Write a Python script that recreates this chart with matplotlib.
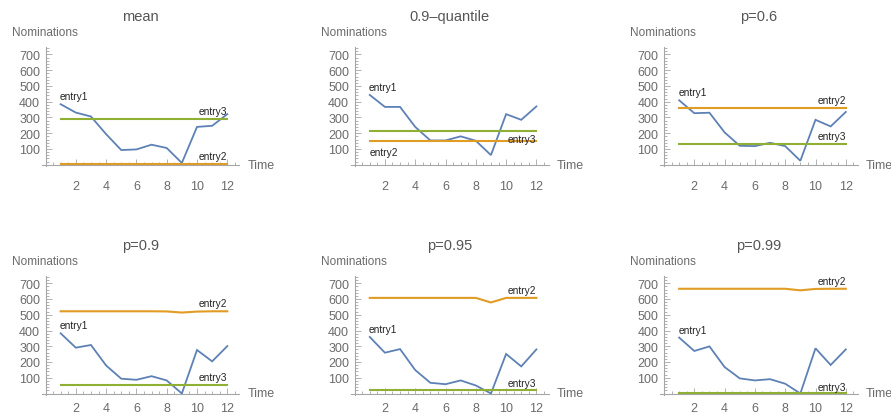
import numpy as np
import matplotlib
matplotlib.use("Agg")
import matplotlib.pyplot as plt
from matplotlib.ticker import MultipleLocator

plt.rcParams['font.family'] = ['Liberation Sans', 'DejaVu Sans']

# months on the time axis
time = np.arange(1, 13)

titles = ["mean", "0.9\u2013quantile", "p=0.6", "p=0.9", "p=0.95", "p=0.99"]

# entry1: nominations per month
entry1 = [
    [384, 331, 306, 194, 93, 97, 127, 106, 11, 240, 247, 321],
    [443, 367, 367, 240, 154, 154, 180, 152, 61, 321, 285, 370],
    [409, 327, 330, 205, 120, 118, 139, 118, 25, 285, 243, 335],
    [382, 291, 308, 178, 94, 87, 110, 83, 0, 276, 204, 301],
    [359, 259, 282, 149, 68, 59, 83, 51, 0, 251, 172, 280],
    [355, 270, 299, 168, 96, 83, 91, 62, 0, 287, 181, 280],
]
# entry2 and entry3: threshold levels
entry2 = [
    [2] * 12,
    [152] * 12,
    [357] * 12,
    [522, 522, 522, 522, 522, 522, 522, 521, 514, 520, 522, 522],
    [607, 607, 607, 607, 607, 607, 607, 607, 578, 607, 607, 607],
    [665, 665, 665, 665, 665, 665, 665, 665, 655, 664, 665, 665],
]
entry3 = [
    [287] * 12,
    [213] * 12,
    [129] * 12,
    [53] * 12,
    [21] * 12,
    [4] * 12,
]

# label placement: (x, offset in pixels, horizontal alignment)
entry2_label = [(12, 8, 'right'), (1, -11, 'left'), (12, 8, 'right'),
                (12, 8, 'right'), (12, 8, 'right'), (12, 8, 'right')]
entry3_label = [(12, 8, 'right'), (12, -8, 'right'), (12, 8, 'right'),
                (12, 8, 'right'), (12, 7, 'right'), (12, 6, 'right')]

blue = '#5e81b5'
orange = '#e19c24'
green = '#8fb032'
axis_gray = '#a6a6a6'
text_gray = '#6b6b6b'

W, H = 891, 414
fig = plt.figure(figsize=(W / 100, H / 100), dpi=100)

x_origin = [45.5, 354.6, 664.0]
y_origin = [165.7, 394.5]
xtick_pad = [10.8, 5.8]
px_x = 15.15      # pixels per time unit
px_y = 0.1575     # pixels per nomination
xmin, xmax = -0.25, 12.8
ymin, ymax = -8, 745

for k in range(6):
    row, col = divmod(k, 3)
    left = x_origin[col] + xmin * px_x
    width = (xmax - xmin) * px_x
    bottom = H - (y_origin[row] - ymin * px_y)
    height = (ymax - ymin) * px_y
    ax = fig.add_axes([left / W, bottom / H, width / W, height / H])

    ax.plot(time, entry1[k], color=blue, lw=1.3, solid_joinstyle='miter')
    ax.plot(time, entry2[k], color=orange, lw=1.5)
    ax.plot(time, entry3[k], color=green, lw=1.5)

    ax.set_xlim(xmin, xmax)
    ax.set_ylim(ymin, ymax)
    for s in ['top', 'right']:
        ax.spines[s].set_visible(False)
    for s in ['left', 'bottom']:
        ax.spines[s].set_position(('data', 0))
        ax.spines[s].set_color(axis_gray)
        ax.spines[s].set_linewidth(0.8)

    ax.xaxis.set_minor_locator(MultipleLocator(0.5))
    ax.yaxis.set_minor_locator(MultipleLocator(20))
    ax.set_xticks(np.arange(2, 13, 2))
    ax.set_yticks(np.arange(100, 701, 100))
    ax.tick_params(which='both', direction='in', color=axis_gray, width=0.6)
    ax.tick_params(which='major', length=4, labelsize=9, labelcolor=text_gray)
    ax.tick_params(which='minor', length=2)
    ax.tick_params(axis='y', which='major', pad=4)
    ax.tick_params(axis='x', which='major', pad=xtick_pad[row])

    ax.annotate(titles[k], xy=(0.5, 1), xycoords='axes fraction', xytext=(0, 31),
                textcoords='offset pixels', ha='center', va='center',
                fontsize=10.5, color='#555555')
    ax.annotate("Nominations", xy=(0, 1), xycoords='axes fraction', xytext=(-30, 15),
                textcoords='offset pixels', ha='left', va='center',
                fontsize=8.5, color=text_gray)
    ax.annotate("Time", xy=(1, 0), xycoords=ax.get_yaxis_transform(), xytext=(8, 0),
                textcoords='offset pixels', ha='left', va='center',
                fontsize=9, color=text_gray, annotation_clip=False)

    ax.annotate("entry1", xy=(1, entry1[k][0]), xytext=(-1, 8),
                textcoords='offset pixels', ha='left', va='center',
                fontsize=7.3, color='#222222')
    x2, d2, h2 = entry2_label[k]
    ax.annotate("entry2", xy=(x2, entry2[k][x2 - 1]), xytext=(0, d2),
                textcoords='offset pixels', ha=h2, va='center',
                fontsize=7.3, color='#222222')
    x3, d3, h3 = entry3_label[k]
    ax.annotate("entry3", xy=(x3, entry3[k][x3 - 1]), xytext=(0, d3),
                textcoords='offset pixels', ha=h3, va='center',
                fontsize=7.3, color='#222222')

fig.savefig("out.png", dpi=100)
